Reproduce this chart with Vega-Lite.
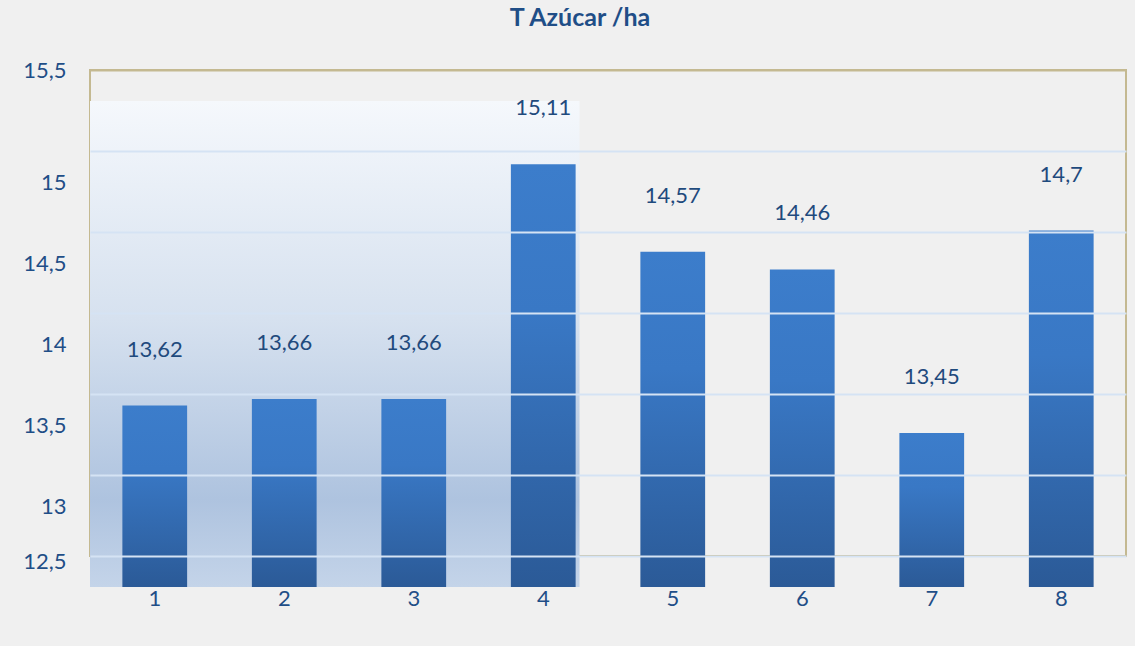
{
  "$schema": "https://vega.github.io/schema/vega-lite/v6.json",
  "width": 1036,
  "height": 486,
  "autosize": {"type": "none"},
  "padding": {"left": 90, "top": 70, "right": 9, "bottom": 90},
  "background": "#F0F0F0",
  "title": {
    "text": "T Azúcar /ha",
    "font": "Lato",
    "fontSize": 25,
    "fontWeight": "bold",
    "color": "#1F4E87",
    "anchor": "middle",
    "frame": "group",
    "dx": -28,
    "offset": 28
  },
  "config": {
    "font": "Lato",
    "view": {"stroke": "#C4B991", "strokeWidth": 2},
    "axisY": {
      "title": null,
      "orient": "left",
      "ticks": false,
      "domain": false,
      "labelPadding": 24,
      "labelFontSize": 22,
      "labelFont": "Lato",
      "labelColor": "#1F4E87"
    },
    "locale": {
      "number": {"decimal": ",", "thousands": ".", "grouping": [3], "currency": ["", " €"]}
    }
  },
  "layer": [
    {
      "data": {"values": [{"desde": 0, "hasta": 3.78, "base": 12.5, "tope": 15.5}]},
      "mark": {
        "type": "rect",
        "yOffset": 31,
        "y2Offset": 31,
        "fill": {
          "gradient": "linear",
          "x1": 0, "y1": 0, "x2": 0, "y2": 1,
          "stops": [
            {"offset": 0, "color": "#F5F8FC"},
            {"offset": 0.45, "color": "#D6E1EF"},
            {"offset": 0.82, "color": "#AEC3DF"},
            {"offset": 1, "color": "#C4D4E9"}
          ]
        }
      },
      "encoding": {
        "x": {"field": "desde", "type": "quantitative", "scale": {"domain": [0, 8], "nice": false}, "axis": null},
        "x2": {"field": "hasta"},
        "y": {
          "field": "base",
          "type": "quantitative",
          "scale": {"domain": [12.5, 15.5], "nice": false, "zero": false},
          "axis": {
            "orient": "left",
            "values": [15.5],
            "labelExpr": "replace(format(datum.value, '.3~g'), '.', ',')",
            "grid": false,
            "labelOffset": 0
          }
        },
        "y2": {"field": "tope"}
      }
    },
    {
      "data": {"name": "tabla"},
      "mark": {
        "type": "bar",
        "yOffset": 31,
        "y2Offset": 31,
        "fill": {
          "gradient": "linear",
          "x1": 0, "y1": 0, "x2": 0, "y2": 1,
          "stops": [
            {"offset": 0, "color": "#3C7DCB"},
            {"offset": 0.35, "color": "#3978C5"},
            {"offset": 1, "color": "#2B5A97"}
          ]
        }
      },
      "encoding": {
        "x": {
          "field": "muestra",
          "type": "ordinal",
          "scale": {"type": "band", "paddingInner": 0.5, "paddingOuter": 0.25},
          "axis": {
            "title": null,
            "labelAngle": 0,
            "ticks": false,
            "domain": false,
            "grid": false,
            "offset": 31,
            "labelPadding": 1,
            "labelFontSize": 22,
            "labelFont": "Lato",
            "labelColor": "#1F4E87"
          }
        },
        "y": {
          "field": "valor",
          "type": "quantitative",
          "axis": {
            "orient": "left",
            "values": [12.5, 13, 13.5, 14, 14.5, 15, 15.5],
            "labelExpr": "datum.value === 12.5 || datum.value === 15.5 ? '' : replace(format(datum.value, '.3~g'), '.', ',')",
            "labelOffset": 31,
            "grid": true,
            "gridColor": {"condition": {"test": "datum.value === 15.5", "value": "#C4B991"}, "value": "#D5E3F4"},
            "gridWidth": 2,
            "zindex": 1
          }
        },
        "y2": {"datum": 12.5}
      }
    },
    {
      "data": {"name": "tabla"},
      "mark": {
        "type": "text",
        "baseline": "middle",
        "yOffset": -25,
        "fontSize": 22,
        "font": "Lato",
        "color": "#1F4A7D"
      },
      "encoding": {
        "x": {
          "field": "muestra",
          "type": "ordinal",
          "scale": {"type": "band", "paddingInner": 0.5, "paddingOuter": 0.25},
          "axis": null
        },
        "y": {
          "field": "valor",
          "type": "quantitative",
          "axis": {
            "orient": "left",
            "values": [12.5],
            "labelExpr": "replace(format(datum.value, '.3~g'), '.', ',')",
            "grid": false,
            "labelOffset": 5
          }
        },
        "text": {"field": "valor", "type": "quantitative", "format": "~g"}
      }
    }
  ],
  "datasets": {
    "tabla": [
      {"muestra": "1", "valor": 13.62},
      {"muestra": "2", "valor": 13.66},
      {"muestra": "3", "valor": 13.66},
      {"muestra": "4", "valor": 15.11},
      {"muestra": "5", "valor": 14.57},
      {"muestra": "6", "valor": 14.46},
      {"muestra": "7", "valor": 13.45},
      {"muestra": "8", "valor": 14.7}
    ]
  },
  "resolve": {"scale": {"x": "independent"}, "axis": {"y": "independent"}}
}
